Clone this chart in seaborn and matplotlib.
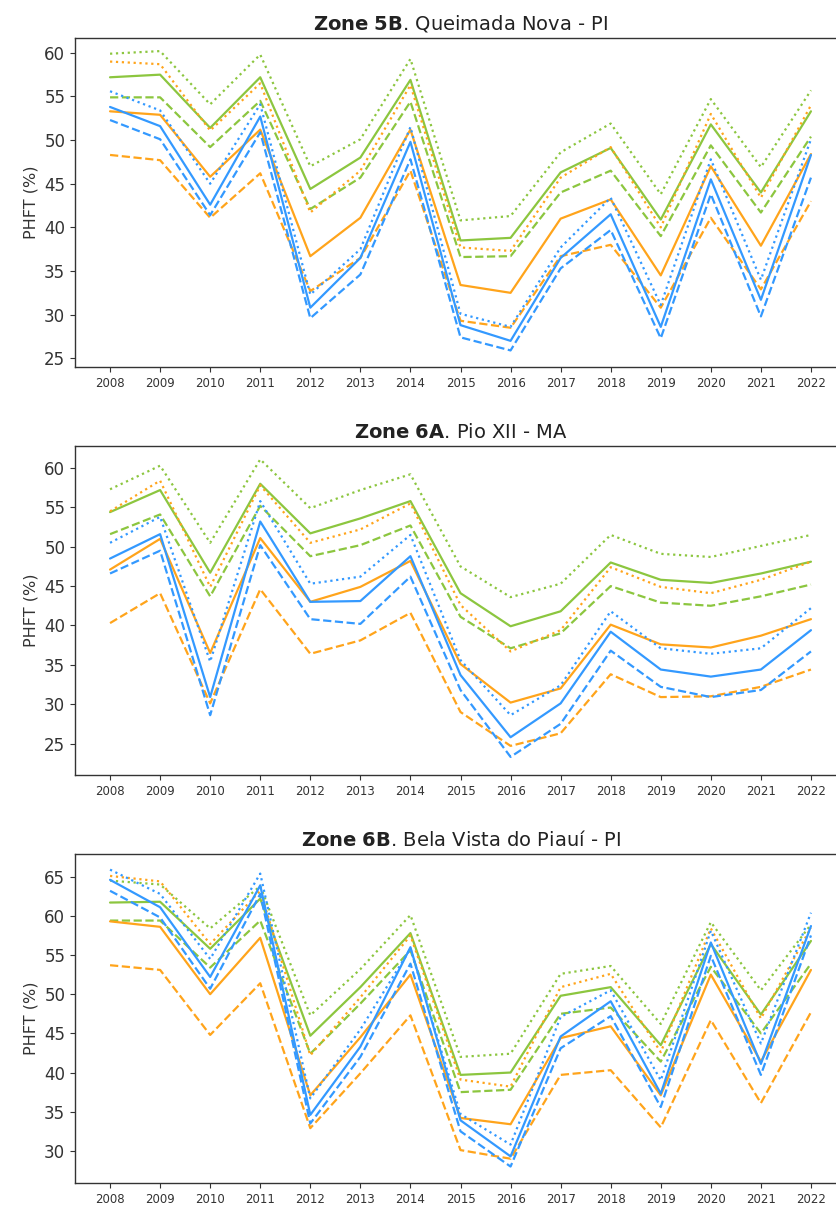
import matplotlib
matplotlib.use("Agg")
import matplotlib.pyplot as plt
import numpy as np
import pandas as pd
import seaborn as sns

years = list(range(2008, 2023))
titles = [r"$\bf{Zone\ 5B}$. Queimada Nova - PI",
          r"$\bf{Zone\ 6A}$. Pio XII - MA",
          r"$\bf{Zone\ 6B}$. Bela Vista do Piauí - PI"]
ylims = [(24.0, 61.7), (21.0, 62.8), (25.9, 67.9)]
yticks = [range(25, 61, 5), range(25, 61, 5), range(30, 66, 5)]

# Zone 5B - Queimada Nova
z5b_green_solid = [57.2, 57.5, 51.4, 57.2, 44.4, 48.0, 56.9, 38.5, 38.8, 46.3, 49.1, 40.9, 51.8, 44.0, 53.3]
z5b_green_dotted = [59.9, 60.2, 54.1, 59.8, 47.0, 50.1, 59.3, 40.8, 41.3, 48.6, 51.9, 43.8, 54.7, 46.9, 55.7]
z5b_green_dashed = [54.9, 54.9, 49.2, 54.5, 42.1, 45.7, 54.4, 36.6, 36.7, 44.0, 46.5, 39.0, 49.4, 41.7, 50.4]
z5b_orange_solid = [53.3, 52.9, 45.8, 51.2, 36.7, 41.1, 51.2, 33.4, 32.5, 41.0, 43.2, 34.5, 47.0, 37.9, 48.4]
z5b_orange_dotted = [59.0, 58.7, 51.1, 56.5, 41.7, 46.5, 56.3, 37.7, 37.3, 45.7, 49.2, 40.0, 53.0, 43.4, 54.0]
z5b_orange_dashed = [48.3, 47.7, 41.1, 46.2, 32.7, 36.5, 46.5, 29.3, 28.5, 36.7, 38.0, 30.8, 41.1, 32.9, 43.0]
z5b_blue_solid = [53.8, 51.6, 42.6, 52.7, 30.8, 36.5, 49.8, 28.8, 27.0, 36.5, 41.5, 28.6, 45.5, 31.7, 48.3]
z5b_blue_dotted = [55.6, 53.4, 45.0, 54.1, 32.3, 37.5, 51.5, 30.1, 28.6, 37.7, 43.4, 31.1, 47.8, 34.0, 50.1]
z5b_blue_dashed = [52.3, 50.1, 41.4, 50.9, 29.6, 34.6, 47.8, 27.4, 25.9, 35.3, 39.7, 27.3, 43.8, 29.8, 45.7]

# Zone 6A - Pio XII
z6a_green_solid = [54.4, 57.2, 46.7, 58.0, 51.7, 53.6, 55.8, 44.1, 39.9, 41.8, 48.0, 45.8, 45.4, 46.6, 48.1]
z6a_green_dotted = [57.3, 60.3, 50.5, 61.1, 54.9, 57.2, 59.2, 47.5, 43.6, 45.3, 51.5, 49.1, 48.7, 50.1, 51.5]
z6a_green_dashed = [51.6, 54.1, 43.7, 55.2, 48.8, 50.2, 52.7, 41.1, 37.1, 39.0, 45.0, 42.9, 42.5, 43.7, 45.2]
z6a_orange_solid = [47.1, 51.0, 36.5, 51.1, 43.0, 44.9, 48.2, 35.1, 30.2, 32.0, 40.1, 37.6, 37.2, 38.7, 40.8]
z6a_orange_dotted = [54.5, 58.4, 44.9, 57.8, 50.5, 52.2, 55.5, 42.6, 36.7, 39.4, 47.4, 44.9, 44.1, 45.8, 48.1]
z6a_orange_dashed = [40.3, 44.1, 30.1, 44.6, 36.4, 38.1, 41.6, 29.0, 24.7, 26.3, 33.8, 30.9, 31.0, 32.2, 34.4]
z6a_blue_solid = [48.5, 51.6, 30.9, 53.2, 43.0, 43.1, 48.8, 33.7, 25.8, 30.1, 39.2, 34.4, 33.5, 34.4, 39.4]
z6a_blue_dotted = [50.5, 53.8, 35.4, 55.8, 45.3, 46.2, 51.5, 35.6, 28.6, 32.4, 41.8, 37.1, 36.4, 37.1, 42.2]
z6a_blue_dashed = [46.6, 49.5, 28.6, 50.2, 40.8, 40.2, 46.2, 31.8, 23.3, 27.5, 36.8, 32.2, 30.9, 31.8, 36.7]

# Zone 6B - Bela Vista do Piaui
z6b_green_solid = [61.7, 61.8, 55.8, 62.2, 44.7, 50.9, 57.8, 39.7, 40.0, 49.8, 50.9, 43.5, 56.4, 47.4, 56.8]
z6b_green_dotted = [64.5, 64.0, 58.4, 63.8, 47.3, 53.2, 60.1, 42.0, 42.4, 52.6, 53.6, 46.2, 59.2, 50.5, 58.9]
z6b_green_dashed = [59.4, 59.4, 53.4, 59.4, 42.4, 48.8, 55.6, 37.5, 37.8, 47.5, 48.3, 41.4, 53.5, 45.0, 53.9]
z6b_orange_solid = [59.3, 58.6, 50.0, 57.2, 37.1, 44.5, 52.5, 34.2, 33.4, 44.4, 45.9, 37.1, 52.5, 41.4, 53.1]
z6b_orange_dotted = [65.1, 64.4, 56.4, 63.2, 42.2, 49.6, 57.5, 39.1, 38.2, 50.9, 52.6, 42.6, 58.4, 46.9, 58.5]
z6b_orange_dashed = [53.7, 53.1, 44.8, 51.4, 32.9, 39.9, 47.3, 30.1, 29.0, 39.7, 40.3, 33.0, 46.7, 36.1, 47.7]
z6b_blue_solid = [64.6, 61.1, 52.2, 63.9, 34.6, 43.3, 56.0, 33.9, 29.3, 44.6, 49.1, 37.3, 56.6, 41.1, 58.7]
z6b_blue_dotted = [65.9, 62.8, 54.5, 65.4, 36.7, 45.5, 55.8, 34.7, 30.8, 47.1, 50.5, 39.0, 58.1, 43.7, 60.4]
z6b_blue_dashed = [63.2, 59.8, 50.7, 62.8, 33.5, 42.0, 53.9, 32.5, 28.0, 43.1, 47.2, 35.6, 54.9, 39.7, 57.5]

zones = [
    {("green", "solid"): z5b_green_solid, ("green", "dotted"): z5b_green_dotted, ("green", "dashed"): z5b_green_dashed,
     ("orange", "solid"): z5b_orange_solid, ("orange", "dotted"): z5b_orange_dotted, ("orange", "dashed"): z5b_orange_dashed,
     ("blue", "solid"): z5b_blue_solid, ("blue", "dotted"): z5b_blue_dotted, ("blue", "dashed"): z5b_blue_dashed},
    {("green", "solid"): z6a_green_solid, ("green", "dotted"): z6a_green_dotted, ("green", "dashed"): z6a_green_dashed,
     ("orange", "solid"): z6a_orange_solid, ("orange", "dotted"): z6a_orange_dotted, ("orange", "dashed"): z6a_orange_dashed,
     ("blue", "solid"): z6a_blue_solid, ("blue", "dotted"): z6a_blue_dotted, ("blue", "dashed"): z6a_blue_dashed},
    {("green", "solid"): z6b_green_solid, ("green", "dotted"): z6b_green_dotted, ("green", "dashed"): z6b_green_dashed,
     ("orange", "solid"): z6b_orange_solid, ("orange", "dotted"): z6b_orange_dotted, ("orange", "dashed"): z6b_orange_dashed,
     ("blue", "solid"): z6b_blue_solid, ("blue", "dotted"): z6b_blue_dotted, ("blue", "dashed"): z6b_blue_dashed},
]

palette = {"green": "#8cc63f", "orange": "#ffa41b", "blue": "#3399ff"}
dashes = {"solid": "", "dotted": (1, 1.65), "dashed": (3.7, 1.6)}

sns.set_style("ticks")
plt.rcParams["font.family"] = ["DejaVu Sans"]
plt.rcParams["mathtext.fontset"] = "dejavusans"

fig, axes = plt.subplots(3, 1, figsize=(8.37, 12.11), dpi=100)
fig.subplots_adjust(left=75 / 837, right=846 / 837, top=1 - 38 / 1211, bottom=1 - 1183 / 1211, hspace=0.24)

for ax, zone, title, ylim, yt in zip(axes, zones, titles, ylims, yticks):
    rows = []
    for (colour, style), vals in zone.items():
        for yr, v in zip(years, vals):
            rows.append({"year": yr, "PHFT": v, "colour": colour, "style": style})
    df = pd.DataFrame(rows)
    sns.lineplot(data=df, x="year", y="PHFT", hue="colour", style="style",
                 palette=palette, dashes=dashes, linewidth=1.6, legend=False, ax=ax)
    ax.set_title(title, fontsize=14, pad=6, color="#222222")
    ax.set_xlim(2007.3, 2022.7)
    ax.set_ylim(*ylim)
    ax.set_xticks(years)
    ax.set_xticklabels([str(y) for y in years], fontsize=8.5)
    ax.set_yticks(list(yt))
    ax.tick_params(axis="y", labelsize=12)
    ax.tick_params(colors="#333333", labelcolor="#333333")
    ax.set_xlabel("")
    ax.set_ylabel("PHFT (%)", fontsize=11.5, color="#333333")
    for sp in ax.spines.values():
        sp.set_color("#333333")
        sp.set_linewidth(1.0)

fig.savefig("out.png", dpi=100)
